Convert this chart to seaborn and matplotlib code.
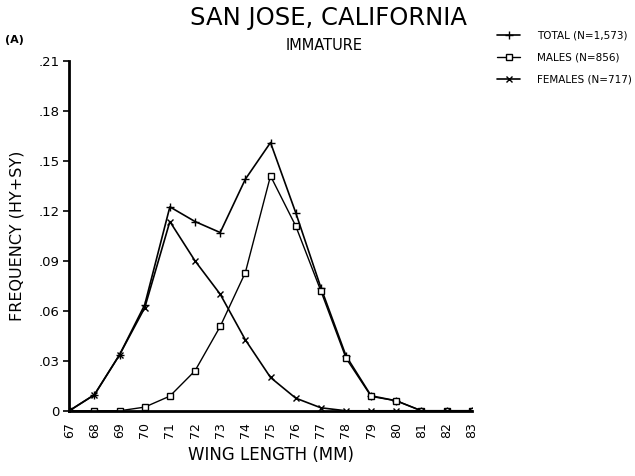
import matplotlib
matplotlib.use("Agg")
import matplotlib.pyplot as plt
import seaborn as sns
import pandas as pd

wing = [67, 68, 69, 70, 71, 72, 73, 74, 75, 76, 77, 78, 79, 80, 81, 82, 83]
total = [0.0, 0.0096, 0.0336, 0.0636, 0.1224, 0.1136, 0.107, 0.139, 0.161, 0.119, 0.074, 0.033, 0.009, 0.006, 0.0, 0.0, 0.0]
males = [0.0, 0.0, 0.0, 0.0022, 0.0088, 0.024, 0.0506, 0.083, 0.141, 0.111, 0.072, 0.0316, 0.0086, 0.006, 0.0, 0.0, 0.0]
females = [0.0, 0.0096, 0.0336, 0.0618, 0.1136, 0.090, 0.070, 0.0426, 0.020, 0.0076, 0.0018, 0.0, 0.0, 0.0, 0.0, 0.0, 0.0]
labels = ["TOTAL (N=1,573)", "MALES (N=856)", "FEMALES (N=717)"]
yticks = [0, 0.03, 0.06, 0.09, 0.12, 0.15, 0.18, 0.21]
ytick_labels = ["0", ".03", ".06", ".09", ".12", ".15", ".18", ".21"]

sns.set_style("white")
plt.rcParams['font.family'] = ['DejaVu Sans']
plt.rcParams['text.color'] = 'black'
plt.rcParams['axes.labelcolor'] = 'black'
plt.rcParams['xtick.color'] = 'black'
plt.rcParams['ytick.color'] = 'black'

fig = plt.figure(figsize=(6.35, 4.76), dpi=100)
ax = fig.add_axes([0.109, 0.137, 0.634, 0.735])

df = pd.DataFrame({"wing": wing, "total": total, "males": males, "females": females})
sns.lineplot(data=df, x="wing", y="total", ax=ax, color="black", lw=1.2,
             marker="+", markersize=5.5, mew=1.0, mec="black", label=labels[0])
sns.lineplot(data=df, x="wing", y="males", ax=ax, color="black", lw=1.0,
             marker="s", markersize=5, mew=1.0, mfc="white", mec="black", label=labels[1])
sns.lineplot(data=df, x="wing", y="females", ax=ax, color="black", lw=1.2,
             marker="x", markersize=4, mew=1.0, mec="black", label=labels[2])

ax.set_xlim(67, 83)
ax.set_ylim(0, 0.21)
ax.set_xticks(wing)
ax.set_xticklabels([str(w) for w in wing], rotation=90, fontsize=9)
ax.set_yticks(yticks)
ax.set_yticklabels(ytick_labels, fontsize=9.5)
ax.tick_params(axis="both", direction="out", length=4, width=1.2, color="black", pad=3, bottom=True, left=True)
ax.tick_params(axis="x", length=0, pad=8)
for s in ["top", "right"]:
    ax.spines[s].set_visible(False)
for s in ["left", "bottom"]:
    ax.spines[s].set_color("black")
    ax.spines[s].set_linewidth(2)
ax.set_xlabel("WING LENGTH (MM)", fontsize=12, labelpad=6)
ax.set_ylabel("FREQUENCY (HY+SY)", fontsize=11.5, labelpad=10)

leg = ax.legend(loc="upper left", bbox_to_anchor=(0.768, 0.955), bbox_transform=fig.transFigure,
                frameon=False, fontsize=7.5, handlelength=2.2, handletextpad=1.6, labelspacing=1.15)

fig.text(0.517, 0.962, "SAN JOSE, CALIFORNIA", ha="center", va="center", fontsize=17.5)
fig.text(0.51, 0.904, "IMMATURE", ha="center", va="center", fontsize=10.5)
fig.text(0.008, 0.916, "(A)", ha="left", va="center", fontsize=8, fontweight="bold")

fig.savefig("out.png", dpi=100)
